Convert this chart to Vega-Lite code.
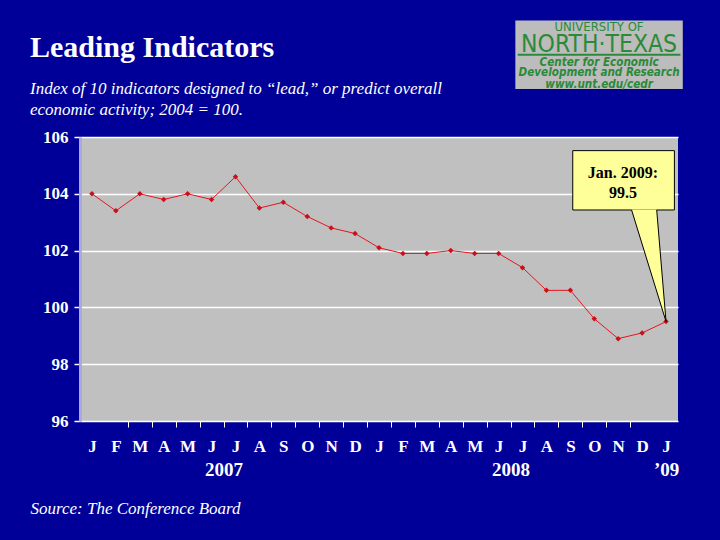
{
  "$schema": "https://vega.github.io/schema/vega-lite/v6.json",
  "width": 598,
  "height": 284,
  "autosize": {"type": "none"},
  "padding": {"left": 80, "top": 137, "right": 42, "bottom": 119},
  "background": "#000099",
  "view": {"fill": "#C0C0C0", "stroke": null},
  "config": {
    "axisY": {
      "tickCount": 5,
      "grid": true,
      "gridColor": "white",
      "gridWidth": 1.5,
      "gridOpacity": 1,
      "ticks": true,
      "tickColor": "white",
      "tickSize": 6,
      "tickWidth": 1.5,
      "domain": true,
      "domainColor": "#A9A9DD",
      "domainWidth": 3,
      "labelFont": "Liberation Serif",
      "labelFontSize": 17,
      "labelFontWeight": "bold",
      "labelColor": "white",
      "labelPadding": 6
    }
  },
  "title": {
    "text": "Leading Indicators",
    "subtitle": ["Index of 10 indicators designed to “lead,” or predict overall", "economic activity; 2004 = 100."],
    "anchor": "start",
    "frame": "group",
    "orient": "top",
    "dx": -50,
    "font": "Liberation Serif",
    "fontSize": 30,
    "fontWeight": "bold",
    "color": "white",
    "subtitleFont": "Liberation Serif",
    "subtitleFontSize": 17,
    "subtitleFontStyle": "italic",
    "subtitleColor": "white",
    "subtitleLineHeight": 21,
    "subtitlePadding": 18,
    "offset": -97
  },
  "datasets": {
    "lei": [
      {"month": 1, "index": 104.0},
      {"month": 2, "index": 103.4},
      {"month": 3, "index": 104.0},
      {"month": 4, "index": 103.8},
      {"month": 5, "index": 104.0},
      {"month": 6, "index": 103.8},
      {"month": 7, "index": 104.6},
      {"month": 8, "index": 103.5},
      {"month": 9, "index": 103.7},
      {"month": 10, "index": 103.2},
      {"month": 11, "index": 102.8},
      {"month": 12, "index": 102.6},
      {"month": 13, "index": 102.1},
      {"month": 14, "index": 101.9},
      {"month": 15, "index": 101.9},
      {"month": 16, "index": 102.0},
      {"month": 17, "index": 101.9},
      {"month": 18, "index": 101.9},
      {"month": 19, "index": 101.4},
      {"month": 20, "index": 100.6},
      {"month": 21, "index": 100.6},
      {"month": 22, "index": 99.6},
      {"month": 23, "index": 98.9},
      {"month": 24, "index": 99.1},
      {"month": 25, "index": 99.5}
    ]
  },
  "layer": [
    {
      "data": {"name": "lei"},
      "mark": {
        "type": "line",
        "color": "#E8141E",
        "strokeWidth": 1,
        "point": {"filled": true, "shape": "diamond", "size": 30, "color": "#C8101A"}
      },
      "encoding": {
        "x": {
          "field": "month", "type": "quantitative",
          "scale": {"domain": [0.5, 25.5], "nice": false, "zero": false},
          "axis": {
            "orient": "bottom",
            "values": [1, 2, 3, 4, 5, 6, 7, 8, 9, 10, 11, 12, 13, 14, 15, 16, 17, 18, 19, 20, 21, 22, 23, 24, 25],
            "labelExpr": "['J','F','M','A','M','J','J','A','S','O','N','D'][(datum.value - 1) % 12]",
            "ticks": false,
            "domain": false,
            "grid": false,
            "labelFont": "Liberation Serif",
            "labelFontSize": 17,
            "labelFontWeight": "bold",
            "labelColor": "white",
            "labelPadding": 17,
            "labelFlush": false,
            "labelOverlap": false,
            "title": null
          }
        },
        "y": {
          "field": "index", "type": "quantitative", "title": null,
          "scale": {"domain": [96, 106], "nice": false, "zero": false}
        }
      }
    },
    {
      "data": {"values": [{"x1": 18.7, "x2": 25.7, "y1": 110.1, "y2": 107.69}]},
      "mark": {"type": "rect", "fill": "#BCBCBC", "clip": false},
      "encoding": {
        "x": {"field": "x1", "type": "quantitative", "axis": null},
        "x2": {"field": "x2"},
        "y": {"field": "y1", "type": "quantitative", "title": null},
        "y2": {"field": "y2"}
      }
    },
    {
      "data": {"values": [{"x1": 18.8, "x2": 25.6, "y": 108.9}]},
      "mark": {"type": "rule", "color": "#2A8A3A", "strokeWidth": 2, "clip": false},
      "encoding": {
        "x": {"field": "x1", "type": "quantitative", "axis": null},
        "x2": {"field": "x2"},
        "y": {"field": "y", "type": "quantitative", "title": null}
      }
    },
    {
      "data": {"values": [{"x": 22.2, "y": 109.87, "t": "UNIVERSITY OF"}]},
      "mark": {"type": "text", "font": "DejaVu Sans Condensed", "fontSize": 13, "color": "#2A8A3A", "baseline": "middle", "clip": false},
      "encoding": {
        "x": {"field": "x", "type": "quantitative", "axis": null},
        "y": {"field": "y", "type": "quantitative", "title": null},
        "text": {"field": "t"}
      }
    },
    {
      "data": {"values": [{"x": 22.2, "y": 109.24, "t": "NORTH·TEXAS"}]},
      "mark": {"type": "text", "font": "DejaVu Sans Condensed", "fontSize": 24.5, "color": "#2A8A3A", "baseline": "middle", "clip": false},
      "encoding": {
        "x": {"field": "x", "type": "quantitative", "axis": null},
        "y": {"field": "y", "type": "quantitative", "title": null},
        "text": {"field": "t"}
      }
    },
    {
      "data": {"values": [
        {"x": 22.2, "y": 108.62, "t": "Center for Economic"},
        {"x": 22.2, "y": 108.24, "t": "Development and Research"},
        {"x": 22.2, "y": 107.84, "t": "www.unt.edu/cedr"}
      ]},
      "mark": {"type": "text", "font": "DejaVu Sans Condensed", "fontSize": 11.6, "fontStyle": "italic", "fontWeight": "bold", "color": "#2A8A3A", "baseline": "middle", "clip": false},
      "encoding": {
        "x": {"field": "x", "type": "quantitative", "axis": null},
        "y": {"field": "y", "type": "quantitative", "title": null},
        "text": {"field": "t"}
      }
    },
    {
      "data": {"values": [{"x1": 21.1, "x2": 25.35, "y1": 105.52, "y2": 103.43}]},
      "mark": {"type": "rect", "fill": "#FFFF99", "stroke": "black", "strokeWidth": 1, "clip": false},
      "encoding": {
        "x": {
          "field": "x1", "type": "quantitative",
          "axis": {
            "orient": "bottom",
            "values": [2.5, 3.5, 4.5, 5.5, 6.5, 7.5, 8.5, 9.5, 10.5, 11.5, 12.5, 13.5, 14.5, 15.5, 16.5, 17.5, 18.5, 19.5, 20.5, 21.5, 22.5, 23.5],
            "labels": false,
            "ticks": true,
            "tickColor": "white",
            "tickSize": 6,
            "tickWidth": 1,
            "domain": false,
            "grid": false,
            "title": null
          }
        },
        "x2": {"field": "x2"},
        "y": {"field": "y1", "type": "quantitative", "title": null},
        "y2": {"field": "y2"}
      }
    },
    {
      "data": {"values": [
        {"y": 103.45, "x1": 23.56, "x2": 24.61},
        {"y": 99.5, "x1": 25.0, "x2": 25.0}
      ]},
      "mark": {"type": "area", "orient": "horizontal", "fill": "#FFFF99", "clip": false},
      "encoding": {
        "y": {"field": "y", "type": "quantitative", "title": null},
        "x": {"field": "x1", "type": "quantitative", "axis": null},
        "x2": {"field": "x2"}
      }
    },
    {
      "data": {"values": [
        {"x1": 23.56, "y1": 103.43, "x2": 25.0, "y2": 99.5},
        {"x1": 24.61, "y1": 103.43, "x2": 25.0, "y2": 99.5}
      ]},
      "mark": {"type": "rule", "color": "black", "strokeWidth": 1},
      "encoding": {
        "x": {"field": "x1", "type": "quantitative", "axis": null},
        "x2": {"field": "x2"},
        "y": {"field": "y1", "type": "quantitative", "title": null},
        "y2": {"field": "y2"}
      }
    },
    {
      "data": {"values": [{"x": 23.2, "y": 104.73, "t": "Jan. 2009:\n99.5"}]},
      "mark": {"type": "text", "font": "Liberation Serif", "fontSize": 16, "fontWeight": "bold", "color": "black", "baseline": "middle", "lineBreak": "\n", "lineHeight": 20},
      "encoding": {
        "x": {
          "field": "x", "type": "quantitative",
          "axis": {
            "orient": "bottom",
            "values": [6.5, 18.5, 25],
            "labelExpr": "datum.value == 6.5 ? '2007' : datum.value == 18.5 ? '2008' : '’09'",
            "ticks": false,
            "domain": false,
            "grid": false,
            "labelFont": "Liberation Serif",
            "labelFontSize": 19,
            "labelFontWeight": "bold",
            "labelColor": "white",
            "labelPadding": 39,
            "labelFlush": false,
            "labelOverlap": false,
            "title": "Source:  The Conference Board",
            "titleX": -50,
            "titleY": 92,
            "titleAlign": "left",
            "titleAnchor": "start",
            "titleBaseline": "alphabetic",
            "titleFont": "Liberation Serif",
            "titleFontSize": 17,
            "titleFontStyle": "italic",
            "titleFontWeight": "normal",
            "titleColor": "white"
          }
        },
        "y": {"field": "y", "type": "quantitative", "title": null},
        "text": {"field": "t"}
      }
    }
  ],
  "resolve": {"axis": {"x": "independent"}}
}
